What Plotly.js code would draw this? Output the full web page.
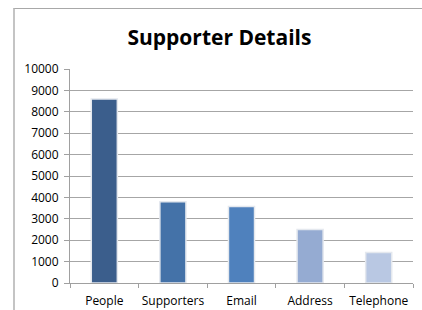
<!DOCTYPE html>
<html><head><meta charset="utf-8">
<script src="https://cdn.plot.ly/plotly-3.0.1.min.js"></script>
<style>
html,body{margin:0;padding:0;background:#fff;}
#wrap{position:absolute;left:0;top:0;width:422px;height:310px;overflow:hidden;}
#frame{position:absolute;left:13px;top:8px;width:420px;height:320px;border-left:2px solid #C4C4C4;border-top:1px solid #A8A8A8;pointer-events:none;}
#chart{position:absolute;left:0;top:0;width:422px;height:310px;}
</style></head>
<body>
<div id="wrap"><div id="chart"></div><div id="frame"></div></div>
<script>
const categories = ["People", "Supporters", "Email", "Address", "Telephone"];
const values = [8600, 3800, 3580, 2500, 1430];
const barColors = ["#3B5E8C", "#4472A8", "#4F81BD", "#95ABD2", "#B9C8E3"];
const yTicks = [0,1000,2000,3000,4000,5000,6000,7000,8000,9000,10000];

const trace = {
  type: "bar",
  x: categories,
  y: values,
  marker: {color: barColors, line: {color: "#E4E8EE", width: 1.5}},
  hoverinfo: "none"
};
const font = "'Open Sans', sans-serif";
const layout = {
  width: 422, height: 310,
  margin: {l: 70, r: 9, t: 69, b: 27, pad: 0},
  paper_bgcolor: "#fff", plot_bgcolor: "#fff",
  showlegend: false,
  bargap: 0.62,
  font: {family: font, size: 12, color: "#000"},
  title: {text: "<b>Supporter Details</b>", font: {family: font, size: 21, color: "#000"}, x: 0.52, xanchor: "center", y: 0.88, yanchor: "middle"},
  xaxis: {
    type: "category",
    tickson: "boundaries",
    tickangle: 0,
    ticks: "outside", ticklen: 4, tickcolor: "#A0A0A0",
    showline: true, linecolor: "#A0A0A0", linewidth: 1,
    showgrid: false, zeroline: false,
    tickfont: {size: 12, family: font},
    ticklabelstandoff: 7,
    fixedrange: true
  },
  yaxis: {
    range: [0, 10000],
    tickvals: yTicks,
    ticktext: yTicks.map(String),
    ticks: "outside", ticklen: 5, tickcolor: "#A0A0A0",
    showline: true, linecolor: "#A0A0A0", linewidth: 1,
    showgrid: true, gridcolor: "#A6A6A6", gridwidth: 1,
    zeroline: false,
    tickfont: {size: 12, family: font},
    ticklabelstandoff: 3,
    fixedrange: true
  }
};
Plotly.newPlot("chart", [trace], layout, {staticPlot: true, displayModeBar: false});
</script>
</body></html>
